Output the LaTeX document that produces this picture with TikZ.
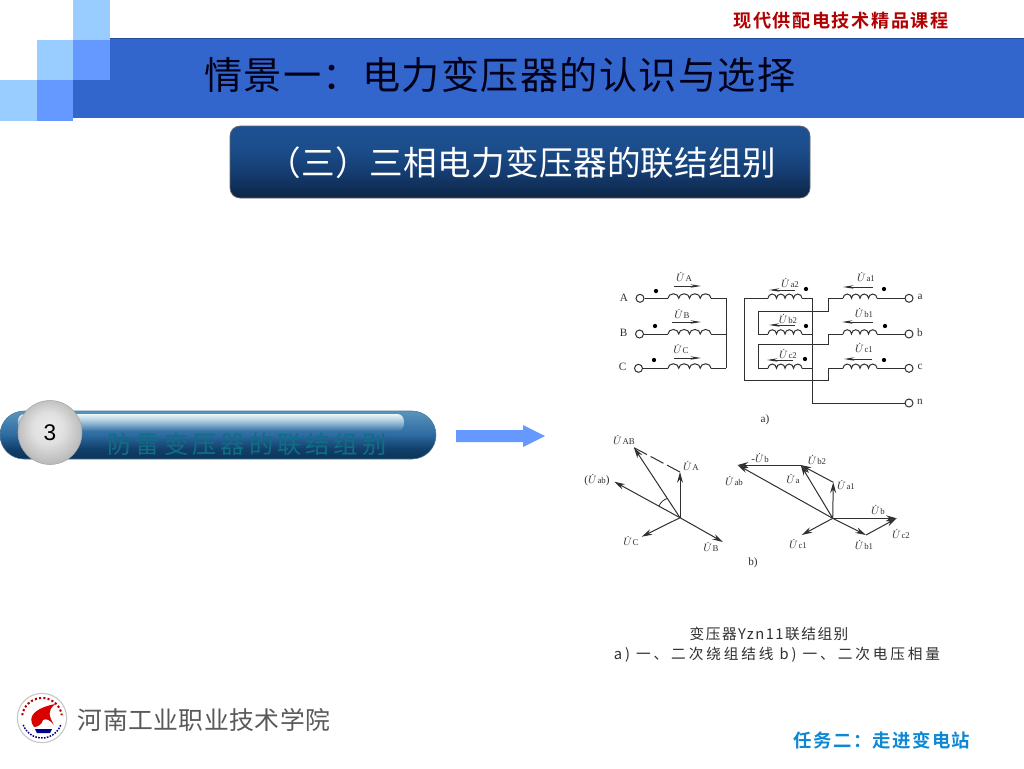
\documentclass[tikz,border=0pt]{standalone}
\usepackage{fontspec}
\usetikzlibrary{arrows.meta,fadings}
\setmainfont{Liberation Serif}
\newfontfamily\cjk{Noto Sans CJK SC}
\newfontfamily\cjktitle{Noto Sans CJK SC}[LetterSpace=3.6]
\newfontfamily\cjkcourse{Noto Sans CJK SC Bold}[LetterSpace=8.8]
\newfontfamily\cjktask{Noto Sans CJK SC Bold}[LetterSpace=7.5]
\newfontfamily\cjksub{Noto Sans CJK SC}[LetterSpace=1]
\newfontfamily\cjkschool{Noto Sans CJK SC}[LetterSpace=2]
\newfontfamily\cjkcapa{Noto Sans CJK SC}[LetterSpace=10.5]
\newfontfamily\cjkcapb{Noto Sans CJK SC}[LetterSpace=19.5]
\newfontfamily\arl{Liberation Sans}
\definecolor{band}{HTML}{3366CC}
\definecolor{sqlight}{HTML}{99CCFF}
\definecolor{sqmid}{HTML}{6699FF}
\definecolor{barteal}{HTML}{0F6E84}
\definecolor{wire}{HTML}{303030}
\definecolor{bx1}{HTML}{0C2545}
\definecolor{bx2}{HTML}{163F75}
\definecolor{bx3}{HTML}{1C4E8C}
\definecolor{bx4}{HTML}{1D5094}
\definecolor{br1}{HTML}{0B3355}
\definecolor{br2}{HTML}{12406C}
\definecolor{br3}{HTML}{2C6AA0}
\definecolor{br4}{HTML}{5A95BE}
\definecolor{hl}{HTML}{EAF6FA}
\pgfdeclareverticalshading{boxshade}{100bp}{
 color(0bp)=(bx1); color(25bp)=(bx1); color(45bp)=(bx2); color(60bp)=(bx3); color(75bp)=(bx4); color(100bp)=(bx4)}
\pgfdeclareverticalshading{barshade}{100bp}{
 color(0bp)=(br1); color(25bp)=(br1); color(36bp)=(br2); color(50bp)=(br3); color(75bp)=(br4); color(100bp)=(br4)}
\pgfdeclareradialshading{ballshade}{\pgfpoint{-2bp}{5bp}}{
 color(0bp)=(white!92!black); color(12bp)=(white!88!black); color(25bp)=(white!74!black); color(40bp)=(white!58!black)}
\tikzset{
 x=0.75pt,y=-0.75pt,
 wirel/.style={draw=wire,line width=0.75pt},
 term/.style={circle,draw=wire,line width=0.75pt,minimum size=6pt,inner sep=0,fill=white},
 dotm/.style={circle,fill=black,minimum size=3.2pt,inner sep=0},
 lab/.style={inner sep=0,font=\fontsize{8.4}{9}\selectfont,text=wire},
 vec/.style={draw=wire,line width=0.75pt,-{Stealth[length=8pt,width=4.4pt]}},
 volt/.style={draw=wire,line width=0.6pt,-{Stealth[length=8pt,width=2.6pt]}},
}
\newcommand{\UU}[1]{$\dot{U}$\kern0.4pt{\fontsize{6.6}{7}\selectfont #1}}
\newcommand{\bigcoil}[1]{\draw[wirel] (#1) arc[start angle=180,end angle=0,x radius=4.03pt,y radius=3.4pt] arc[start angle=180,end angle=0,x radius=4.03pt,y radius=3.4pt] arc[start angle=180,end angle=0,x radius=4.03pt,y radius=3.4pt] arc[start angle=180,end angle=0,x radius=4.03pt,y radius=3.4pt];}
\newcommand{\smallcoil}[1]{\draw[wirel] (#1) arc[start angle=180,end angle=0,x radius=3.19pt,y radius=3.2pt] arc[start angle=180,end angle=0,x radius=3.19pt,y radius=3.2pt] arc[start angle=180,end angle=0,x radius=3.19pt,y radius=3.2pt] arc[start angle=180,end angle=0,x radius=3.19pt,y radius=3.2pt];}
\begin{document}
\begin{tikzpicture}
\useasboundingbox (0,0) rectangle (1024,768);
\fill[white] (0,0) rectangle (1024,768);
% header band
\fill[band] (73,38) rectangle (1024,118);
\draw[band!75!black,line width=0.5pt] (73,38) -- (1024,38);
\fill[sqlight] (73,0) rectangle (110,40);
\fill[sqmid] (73,40) rectangle (110,80);
\fill[sqlight] (37,40) rectangle (73,80);
\fill[sqlight] (0,80) rectangle (37,121);
\fill[sqmid] (37,80) rectangle (73,121);
\node[inner sep=0,text=black!90!blue,font=\cjktitle\fontsize{28.6}{30}\selectfont] (title) at (500,74.5) {情景一：电力变压器的认识与选择};
\node[inner sep=0,text=red!70!black,font=\cjkcourse\fontsize{13.6}{15}\selectfont] (course) at (841,21) {现代供配电技术精品课程};
% subtitle
\path[draw=gray!80!black,line width=0.5pt,rounded corners=7.5pt,shading=boxshade] (230,126) rectangle (810,198);
\node[inner sep=0,text=white,font=\cjksub\fontsize{25.2}{27}\selectfont] (sub) at (522,162.5) {（三）三相电力变压器的联结组别};
% bar
\path[draw=br4!80!black,line width=0.4pt,rounded corners=18pt,shading=barshade] (0,411) rectangle (436,459);
\fill[hl,path fading=south,rounded corners=5pt] (18,414) rectangle (404,431);
\node[inner sep=0,text=barteal,font=\cjk\fontsize{18.2}{20}\selectfont] (threat) at (247,444.5) {防\,雷\,变\,压\,器\,的\,联\,结\,组\,别};
\node[circle,minimum size=48pt,inner sep=0,draw=gray!70,line width=0.4pt,shading=ballshade,font=\arl\fontsize{17}{18}\selectfont,text=black] (ball) at (50,432.5) {3};
% block arrow
\fill[sqmid] (456,430) -- (523,430) -- (523,425) -- (545,436) -- (523,447) -- (523,442) -- (456,442) -- cycle;
% --- circuit
\foreach \n/\y/\t/\dx in {A/298.3/A/640,B/334/B/639.5,C/368.3/C/638.5}{
  \node[term] (T\n) at (\dx,\y) {};
  \node[lab] (TL\n) at (\dx-16,\y-1) {\t};
  \coordinate (P\n) at (726,\y);
  \coordinate (Ca\n) at (668,\y);
  \coordinate (Cb\n) at (711,\y);
  \draw[wirel] (T\n) -- (Ca\n);
  \draw[wirel] (Cb\n) -- (P\n);
  \bigcoil{Ca\n}
}
\draw[wirel] (PA) -- (PC);
% second winding
\foreach \n/\y/\t in {a/298.3/a,b/334/b,c/368.3/c,n/403/n}{
  \node[term] (T\n) at (909,\y) {};
  \node[lab] (TL\n) at (920,\y-1) {\t};
}
\foreach \n/\y in {a/298.3,b/334,c/368.3}{
  \coordinate (Ra\n) at (843,\y);
  \coordinate (Rb\n) at (877,\y);
  \smallcoil{Ra\n}
  \draw[wirel] (Rb\n) -- (T\n);
  \draw[wirel] (Ra\n) -- (828,\y);
  \coordinate (Ma\n) at (768,\y);
  \coordinate (Mb\n) at (802,\y);
  \smallcoil{Ma\n}
  \draw[wirel] (Mb\n) -- (812,\y);
}
\coordinate (Nt) at (812,298.3);
\draw[wirel] (Nt) |- (Tn);
\draw[wirel] (Maa) -- (744,298.3) -- (744,380) -- (828,380) -- (828,368.3);
\draw[wirel] (Mab) -- (758,334) -- (758,311) -- (828,311) -- (828,298.3);
\draw[wirel] (Mac) -- (758,368.3) -- (758,344) -- (828,344) -- (828,334);
\foreach \k/\x/\y in {1/656/291,2/655/326,3/654/360,4/806/289,5/806/326,6/805/359,7/884/289,8/885/326,9/884/360}
  \node[dotm] (D\k) at (\x,\y) {};
% voltage arrows
\foreach \k/\xa/\xb/\y in {1/674/701/286,2/672/701/322,3/674/701/358,4/795/769/290,5/795/769/325,6/793/767/360,7/873/843/287,8/873/842/322,9/872/844/359}{
  \coordinate (Va\k) at (\xa,\y); \coordinate (Vb\k) at (\xb,\y);
  \draw[volt] (Va\k) -- (Vb\k);
}
\node[lab] (LA) at (684,277) {\UU{A}};
\node[lab] (LB) at (682,314) {\UU{B}};
\node[lab] (LC) at (681,349) {\UU{C}};
\node[lab] (La2) at (790,283) {\UU{a2}};
\node[lab] (Lb2) at (788,319) {\UU{b2}};
\node[lab] (Lc2) at (788,354) {\UU{c2}};
\node[lab] (La1) at (866,277) {\UU{a1}};
\node[lab] (Lb1) at (864,313) {\UU{b1}};
\node[lab] (Lc1) at (864,348) {\UU{c1}};
\node[lab] (capa) at (765,420) {a)};
% --- left phasor
\coordinate (O) at (680,517.7);
\coordinate (tA) at (680,472);
\coordinate (tAB) at (634,447.7);
\coordinate (tab) at (614.3,481.7);
\coordinate (tB) at (723,542);
\coordinate (tC) at (641.7,536.7);
\draw[vec] (O) -- (tA);
\draw[vec] (O) -- (tAB);
\draw[vec] (O) -- (tab);
\draw[vec] (O) -- (tB);
\draw[vec] (O) -- (tC);
\draw[wirel,dash pattern=on 11pt off 3pt] (tA) -- (tAB);
\draw[wirel,line width=0.6pt] (659,506) .. controls (661,502) and (663,500) .. (667,498.5);
\node[lab] (LUA) at (691,466) {\UU{A}};
\node[lab] (LUAB) at (624,440) {\UU{AB}};
\node[lab] (LUab) at (597,480) {($\dot{U}$\kern0.4pt{\fontsize{6.6}{7}\selectfont ab})};
\node[lab] (LUC) at (631,541) {\UU{C}};
\node[lab] (LUB) at (711,547) {\UU{B}};
% --- right phasor
\coordinate (Q) at (832.7,518.3);
\coordinate (qa1) at (833.3,482.3);
\coordinate (qb2) at (800.7,465);
\coordinate (qab) at (737.7,465);
\coordinate (qb) at (896.7,518.3);
\coordinate (qb1) at (866,535);
\coordinate (qc1) at (801.7,535);
\draw[vec] (Q) -- (qa1);
\draw[vec] (qa1) -- (qb2);
\draw[vec] (Q) -- (qb2);
\draw[vec] (qb2) -- (qab);
\draw[vec] (Q) -- (qab);
\draw[vec] (Q) -- (qb);
\draw[vec] (Q) -- (qb1);
\draw[vec] (qb1) -- (qb);
\draw[vec] (Q) -- (qc1);
\node[lab] (RUb) at (760,458) {-\UU{b}};
\node[lab] (RUb2) at (817,460) {\UU{b2}};
\node[lab] (RUa) at (793,479) {\UU{a}};
\node[lab] (RUa1) at (846,485) {\UU{a1}};
\node[lab] (RUab) at (734,481) {\UU{ab}};
\node[lab] (RUbb) at (878,510) {\UU{b}};
\node[lab] (RUc2) at (901,534) {\UU{c2}};
\node[lab] (RUb1) at (864,545) {\UU{b1}};
\node[lab] (RUc1) at (798,544) {\UU{c1}};
\node[lab] (capb) at (753,563) {b)};
% caption
\node[inner sep=0,text=wire,font=\cjkcapa\fontsize{11}{12}\selectfont] (cap1) at (769,634) {变压器Yzn11联结组别};
\node[inner sep=0,text=wire,font=\cjkcapb\fontsize{11}{12}\selectfont] (cap2) at (777,655) {a) 一、二次绕组结线 b) 一、二次电压相量};
% logo
\node[circle,minimum size=37pt,inner sep=0,draw=gray!45,line width=0.8pt,fill=white] (logo) at (42,718) {};
\draw[red!70!black,line width=1.5pt,dash pattern=on 1.6pt off 1.6pt] (42,718) ++(172:15pt) arc[start angle=172,end angle=8,radius=15pt];
\draw[blue!45!black,line width=1.1pt,dash pattern=on 1.2pt off 1pt] (42,718) ++(200:15pt) arc[start angle=200,end angle=340,radius=15pt];
\fill[red!85!black] (34,727) .. controls (26,716) and (36,708) .. (55,704) .. controls (47,711) and (49,716) .. (54,725) .. controls (50,720) and (46,718) .. (43,720) .. controls (42,724) and (38,727) .. (34,727) -- cycle;
\fill[blue!55!black] (35,729) -- (52,729) -- (50,733) -- (37,733) -- cycle;
\node[inner sep=0,text=black!65,font=\cjkschool\fontsize{18.6}{20}\selectfont] (school) at (204,719.5) {河南工业职业技术学院};
\node[inner sep=0,text=cyan!70!blue,font=\cjktask\fontsize{13.8}{15}\selectfont] (task) at (882,740.5) {任务二：走进变电站};
\end{tikzpicture}
\end{document}
